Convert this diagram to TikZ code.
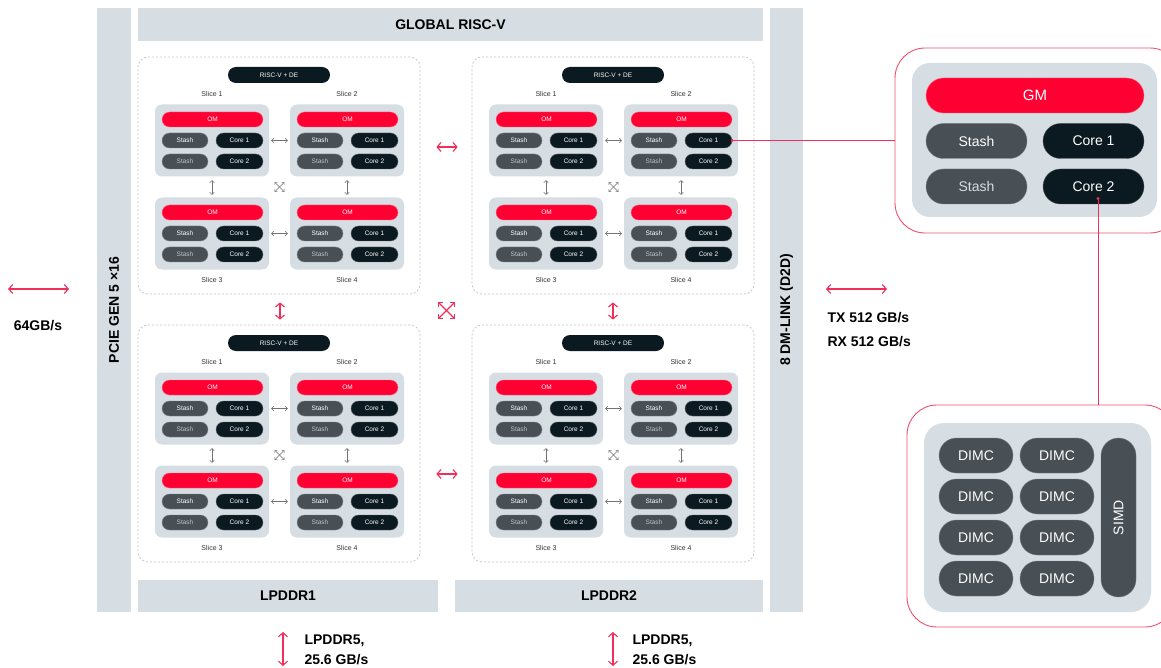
\documentclass[tikz,border=0pt]{standalone}
\usepackage{fontspec}
\setmainfont{Liberation Sans}
\usetikzlibrary{arrows.meta}
\definecolor{bargray}{HTML}{D6DEE3}
\definecolor{omred}{HTML}{FF0033}
\definecolor{corebk}{HTML}{0B1A20}
\definecolor{stashgr}{HTML}{485056}
\definecolor{linkred}{HTML}{F0506E}
\definecolor{arrowred}{HTML}{F0305A}
\definecolor{dashgr}{HTML}{BFC4C8}
\tikzset{
  bar/.style={fill=bargray,inner sep=0pt,font=\bfseries\fontsize{14}{16}\selectfont},
  quad/.style={draw=dashgr,line width=0.7pt,dash pattern=on 2pt off 2pt,rounded corners=10pt,
    minimum width=282pt,minimum height=237pt},
  slicebox/.style={fill=bargray,rounded corners=7pt,minimum width=114pt,minimum height=72pt},
  spill/.style={rounded corners=7.5pt,minimum height=15pt,inner sep=0pt,text=white,
    font=\fontsize{6.5}{7}\selectfont},
  bpill/.style={rounded corners=17.5pt,minimum height=35pt,inner sep=0pt,text=white,
    font=\fontsize{14}{16}\selectfont},
  slicelbl/.style={text=black!80,font=\fontsize{7}{8}\selectfont},
  bwlbl/.style={font=\bfseries\fontsize{14}{16}\selectfont,align=left},
  redarrow/.style={draw=arrowred,line width=1.1pt,
    {Straight Barb[length=4pt,width=9pt]}-{Straight Barb[length=4pt,width=9pt]}},
  redcross/.style={draw=arrowred,line width=1.1pt,
    {Straight Barb[length=3pt,width=6pt]}-{Straight Barb[length=3pt,width=6pt]}},
  grayarrow/.style={draw=black!55,line width=0.6pt,
    {Straight Barb[length=2pt,width=4.5pt]}-{Straight Barb[length=2pt,width=4.5pt]}},
  graycross/.style={draw=black!55,line width=0.6pt,
    {Straight Barb[length=1.8pt,width=3.5pt]}-{Straight Barb[length=1.8pt,width=3.5pt]}},
  outline/.style={draw=linkred,line width=0.9pt,rounded corners=30pt},
  wire/.style={draw=arrowred,line width=0.8pt}
}
\begin{document}
\begin{tikzpicture}[x=1pt,y=-1pt]
  \useasboundingbox[fill=white] (0,0) rectangle (1161,668);
  % outer bars
  \node[bar,rotate=90,minimum width=604pt,minimum height=34pt] (pcie) at (114,310) {PCIE GEN 5 ×16};
  \node[bar,minimum width=625pt,minimum height=33pt] (grisc) at (450.5,24.5) {GLOBAL RISC-V};
  \node[bar,rotate=90,minimum width=604pt,minimum height=33pt] (dmlink) at (786.5,310) {8 DM-LINK (D2D)};
  \node[bar,minimum width=300pt,minimum height=32pt] (lp1) at (288,596) {LPDDR1};
  \node[bar,minimum width=308pt,minimum height=32pt] (lp2) at (609,596) {LPDDR2};
  % four quadrants of slices
  \foreach \q/\ox/\oy in {1/0/0,2/334/0,3/0/268,4/334/268}{
    \begin{scope}[shift={(\ox,\oy)}]
      \node[quad] (q\q) at (279,175.5) {};
      \node[spill,fill=corebk,minimum width=102pt,minimum height=16pt,rounded corners=8pt]
        (q\q-risc) at (279,75) {RISC-V + DE};
      \foreach \s/\sx/\sy/\ly in {1/0/0/94,2/135/0/94,3/0/93/280,4/135/93/280}{
        \node[slicebox] (q\q-s\s) at (212+\sx,140.5+\sy) {};
        \node[slicelbl] (q\q-l\s) at (212+\sx,\ly) {Slice \s};
        \node[spill,fill=omred,draw=omred!60!white,minimum width=101pt] (q\q-om\s) at (212.5+\sx,119.5+\sy) {OM};
        \node[spill,fill=stashgr,draw=stashgr!70!white,minimum width=46pt] (q\q-st\s) at (185+\sx,140.5+\sy) {Stash};
        \node[spill,fill=corebk,draw=corebk!70!white,minimum width=47pt] (q\q-c1\s) at (239.5+\sx,140.5+\sy) {Core 1};
        \node[spill,fill=stashgr,draw=stashgr!70!white,text=white!65!stashgr,minimum width=46pt] (q\q-sb\s) at (185+\sx,161.5+\sy) {Stash};
        \node[spill,fill=corebk,draw=corebk!70!white,minimum width=47pt] (q\q-c2\s) at (239.5+\sx,161.5+\sy) {Core 2};
      }
      \draw[grayarrow,shorten <=2pt,shorten >=2pt] (q\q-s1.east) -- (q\q-s2.west);
      \draw[grayarrow,shorten <=2pt,shorten >=2pt] (q\q-s3.east) -- (q\q-s4.west);
      \draw[grayarrow,shorten <=3.5pt,shorten >=2.5pt] (q\q-s1.south) -- (q\q-s3.north);
      \draw[grayarrow,shorten <=3.5pt,shorten >=2.5pt] (q\q-s2.south) -- (q\q-s4.north);
      \draw[graycross,shorten <=7.5pt,shorten >=7.5pt] (q\q-s1.south east) -- (q\q-s4.north west);
      \draw[graycross,shorten <=7.5pt,shorten >=7.5pt] (q\q-s2.south west) -- (q\q-s3.north east);
    \end{scope}
  }
  % links between quadrants
  \draw[redarrow,shorten <=16pt,shorten >=14pt] ([yshift=28.5pt]q1.east) -- ([yshift=28.5pt]q2.west);
  \draw[redarrow,shorten <=16pt,shorten >=14pt] ([yshift=-30.5pt]q3.east) -- ([yshift=-30.5pt]q4.west);
  \draw[redarrow,shorten <=8pt,shorten >=5pt] ([xshift=1pt]q1.south) -- ([xshift=1pt]q3.north);
  \draw[redarrow,shorten <=8pt,shorten >=5pt] (q2.south) -- (q4.north);
  \coordinate (mid) at (446.5,310.5);
  \draw[redcross] (mid) ++(-8.5,-8.5) -- ++(17,17);
  \draw[redcross] (mid) ++(8.5,-8.5) -- ++(-17,17);
  % off-chip bandwidths
  \coordinate (pcieL) at (8,289);
  \coordinate (pcieR) at (69,289);
  \draw[redarrow] (pcieL) -- (pcieR);
  \node[bwlbl] (bw64) at (38,326) {64GB/s};
  \coordinate (d2dL) at (826,289);
  \coordinate (d2dR) at (887,289);
  \draw[redarrow] (d2dL) -- (d2dR);
  \node[bwlbl,anchor=west] (bwtx) at (824,318) {TX 512 GB/s};
  \node[bwlbl,anchor=west] (bwrx) at (824,342) {RX 512 GB/s};
  \coordinate (lp1a) at (283,632);
  \coordinate (lp1b) at (283,666);
  \draw[redarrow] (lp1a) -- (lp1b);
  \node[bwlbl,anchor=west] (lp5a) at (301,641) {LPDDR5,};
  \node[bwlbl,anchor=west] (lp5b) at (301,660) {25.6 GB/s};
  \coordinate (lp2a) at (613,632);
  \coordinate (lp2b) at (613,666);
  \draw[redarrow] (lp2a) -- (lp2b);
  \node[bwlbl,anchor=west] (lp5c) at (629,641) {LPDDR5,};
  \node[bwlbl,anchor=west] (lp5d) at (629,660) {25.6 GB/s};
  % zoomed slice
  \node[outline,minimum width=285pt,minimum height=185pt] (slicezoom) at (1037.5,140.5) {};
  \node[fill=bargray,rounded corners=18pt,minimum width=245pt,minimum height=154pt] (sliceback) at (1034.5,140) {};
  \node[bpill,fill=omred,draw=omred!60!white,minimum width=218pt,font=\fontsize{15}{17}\selectfont] (gm) at (1035,95.5) {GM};
  \node[bpill,fill=stashgr,draw=stashgr!75!white,minimum width=101pt] (gstash1) at (976.5,141) {Stash};
  \node[bpill,fill=corebk,draw=corebk!75!white,minimum width=101pt] (gcore1) at (1093.5,141) {Core 1};
  \node[bpill,fill=stashgr,draw=stashgr!75!white,text=white!80!stashgr,minimum width=101pt] (gstash2) at (976.5,186.5) {Stash};
  \node[bpill,fill=corebk,draw=corebk!75!white,minimum width=101pt] (gcore2) at (1093.5,186.5) {Core 2};
  % zoomed core
  \node[outline,minimum width=268pt,minimum height=222pt] (corezoom) at (1041,516) {};
  \node[fill=bargray,rounded corners=20pt,minimum width=227pt,minimum height=189pt] (coreback) at (1037.5,517.5) {};
  \foreach \r/\yy in {1/455.5,2/496.5,3/537.5,4/578.5}{
    \node[bpill,fill=stashgr,draw=stashgr!75!white,minimum width=74pt] (dimc\r a) at (976,\yy) {DIMC};
    \node[bpill,fill=stashgr,draw=stashgr!75!white,minimum width=74pt] (dimc\r b) at (1057,\yy) {DIMC};
  }
  \node[bpill,fill=stashgr,draw=stashgr!75!white,rotate=90,minimum width=159pt] (simd) at (1118.5,517.5) {SIMD};
  % zoom wires
  \draw[wire] (q2-c12.east) -- (slicezoom.west);
  \fill[arrowred] (q2-c12.east) circle (1.6pt);
  \draw[wire] ([xshift=4.5pt,yshift=-12pt]gcore2.center) coordinate (cdot) -- (cdot |- corezoom.north);
  \fill[arrowred] (cdot) circle (1.6pt);
\end{tikzpicture}
\end{document}
